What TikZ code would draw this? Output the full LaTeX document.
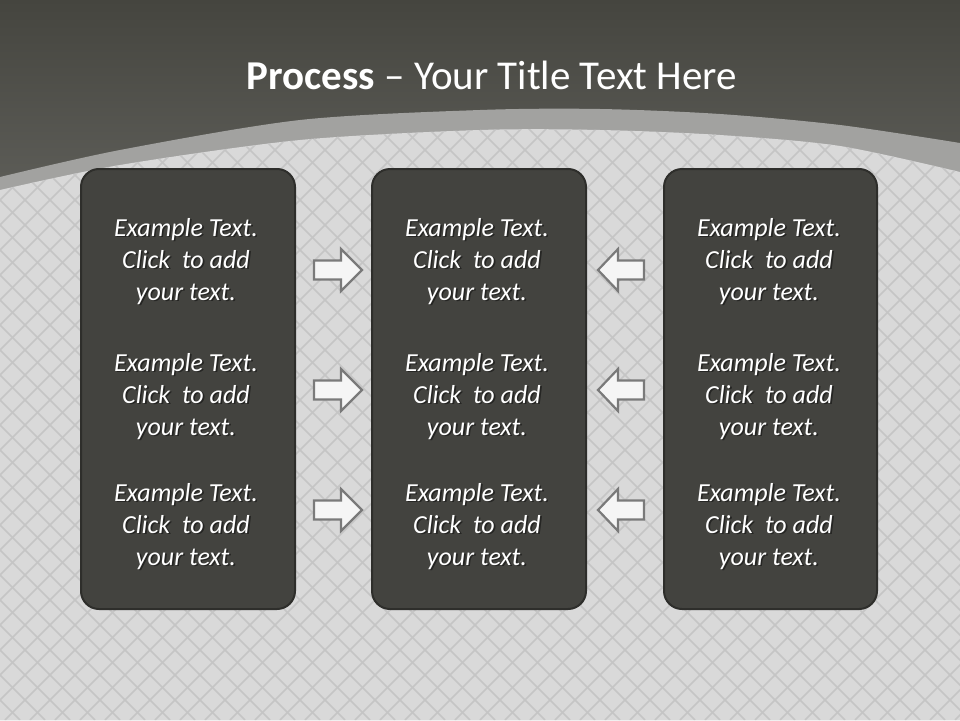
\documentclass[tikz,border=0pt]{standalone}
\usepackage{fontspec}
\setmainfont{Carlito}
\definecolor{topdark}{HTML}{45453F}
\definecolor{topmid}{HTML}{5E5E59}
\definecolor{bandgray}{HTML}{A2A2A0}
\definecolor{lightbg}{HTML}{D9D9D9}
\definecolor{gridline}{HTML}{C5C5C5}
\definecolor{boxfill}{HTML}{43433F}
\definecolor{boxedge}{HTML}{2E2E2B}
\definecolor{shadowcol}{HTML}{252523}
\definecolor{arrowfill}{HTML}{F5F5F5}
\definecolor{arrowedge}{HTML}{7A7A7A}
\newcommand\shline[1]{\leavevmode\rlap{\hspace{1.6pt}\raisebox{-1.6pt}{\textcolor{shadowcol}{#1}}}#1}
\newcommand\itembody{\shline{Example Text.}\\\shline{Click\ \ to add}\\\shline{your text.}}
\tikzset{
  panel/.style={draw=boxedge, line width=2pt, fill=boxfill, rounded corners=18pt},
  itemtext/.style={text=white, align=center, font=\fontsize{26}{32}\selectfont\itshape, inner sep=0pt},
  arrowshape/.style={draw=arrowedge, fill=arrowfill, line width=2.2pt, line join=miter},
  grid line/.style={draw=gridline, line width=1.5pt}
}
\begin{document}
\begin{tikzpicture}[x=1pt, y=-1pt]
\useasboundingbox (0,0) rectangle (960,720);
% background
\shade[top color=topdark, bottom color=topmid] (0,0) rectangle (960,200);
\fill[bandgray] plot[smooth] coordinates {(0,177) (120,150) (300,120) (480,110) (600,109) (720,114) (840,125) (960,143)} -- (960,720) -- (0,720) -- cycle;
\fill[lightbg] plot[smooth] coordinates {(0,190) (120,165) (300,140) (480,130) (600,130) (720,135) (840,146) (960,172)} -- (960,720) -- (0,720) -- cycle;
\begin{scope}
\clip plot[smooth] coordinates {(0,190) (120,165) (300,140) (480,130) (600,130) (720,135) (840,146) (960,172)} -- (960,720) -- (0,720) -- cycle;
\foreach \c in {-725,-700,...,975} {\draw[grid line] (\c,0) -- ++(720,720);}
\foreach \c in {0,25,...,1700} {\draw[grid line] (\c,0) -- ++(-720,720);}
\end{scope}
% title
\node[text=white, font=\fontsize{41}{44}\selectfont, inner sep=0pt] (title) at (492,75) {\textbf{Process} – Your Title Text Here};
% panels
\node[panel, minimum width=214pt, minimum height=440pt, anchor=north west] (left) at (80,168) {};
\node[panel, minimum width=214pt, minimum height=440pt, anchor=north west] (mid) at (371,168) {};
\node[panel, minimum width=213pt, minimum height=440pt, anchor=north west] (right) at (663,168) {};
% texts
\foreach \nm/\xx in {L/186, M/477, R/769} {
  \node[itemtext] (\nm1) at (\xx,262) {\itembody};
  \node[itemtext] (\nm2) at (\xx,397) {\itembody};
  \node[itemtext] (\nm3) at (\xx,527) {\itembody};
}
% arrows
\foreach \yc in {270,390,510} {
  \draw[arrowshape] (314,\yc-9.5) -- (341,\yc-9.5) -- (341,\yc-21) -- (362,\yc) -- (341,\yc+21) -- (341,\yc+9.5) -- (314,\yc+9.5) -- cycle;
  \draw[arrowshape] (644,\yc-9.5) -- (618,\yc-9.5) -- (618,\yc-21) -- (598,\yc) -- (618,\yc+21) -- (618,\yc+9.5) -- (644,\yc+9.5) -- cycle;
}
\end{tikzpicture}
\end{document}
